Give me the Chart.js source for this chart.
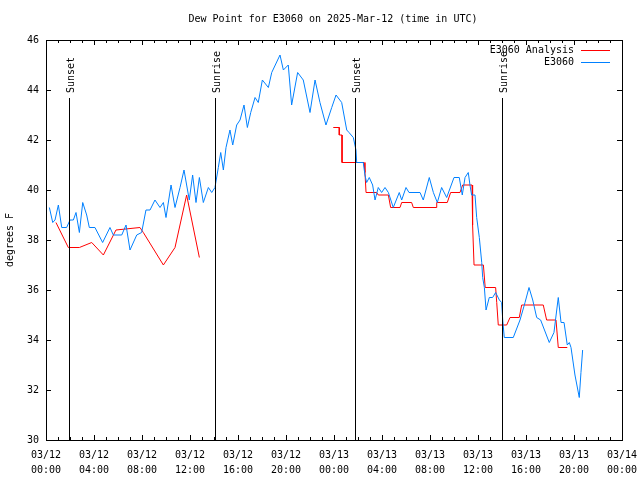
<!DOCTYPE html>
<html>
<head>
<meta charset="utf-8">
<script src="https://cdn.jsdelivr.net/npm/chart.js@4/dist/chart.umd.min.js"></script>
<style>
  body { margin: 0; background: #fff; }
  canvas { display: block; }
</style>
</head>
<body>
<canvas id="myChart" width="640" height="480"></canvas>
<script>
// hours since 03/12 00:00 UTC
var stationHours = [0.28,0.56,0.75,1.03,1.31,1.72,2.0,2.28,2.5,2.78,3.06,3.39,3.61,4.08,4.72,5.33,5.61,6.31,6.67,7.0,
  7.56,7.97,8.33,8.67,9.08,9.5,9.78,10.0,10.42,10.75,11.17,11.5,11.94,12.22,12.5,12.78,13.11,13.53,13.81,14.08,
  14.36,14.56,14.78,15.0,15.33,15.56,15.89,16.17,16.5,16.78,17.06,17.42,17.69,18.03,18.53,18.81,19.5,19.78,20.19,20.47,
  20.97,21.44,22.0,22.42,22.83,23.33,23.81,24.17,24.64,25.06,25.25,25.61,25.83,25.89,26.44,26.58,26.72,26.94,27.22,27.42,
  27.69,27.97,28.25,28.53,28.94,29.44,29.64,30.0,30.25,31.17,31.44,31.94,32.28,32.61,32.97,33.39,34.0,34.44,34.69,34.92,
  35.19,35.33,35.47,35.75,35.89,36.11,36.31,36.39,36.53,36.67,36.94,37.22,37.47,37.78,37.97,38.06,38.19,38.94,39.5,39.92,
  40.25,40.56,40.89,41.22,41.94,42.33,42.69,42.92,43.17,43.44,43.61,43.75,44.08,44.44,44.58,44.72];
var stationDew = [39.3,38.7,38.8,39.4,38.5,38.5,38.8,38.8,39.1,38.3,39.5,39.0,38.5,38.5,37.9,38.5,38.2,38.2,38.6,37.6,
  38.2,38.3,39.2,39.2,39.6,39.3,39.5,38.9,40.2,39.3,40.1,40.8,39.6,40.6,39.5,40.5,39.5,40.1,39.9,40.1,
  40.9,41.5,40.8,41.7,42.4,41.8,42.6,42.8,43.4,42.5,43.1,43.7,43.5,44.4,44.1,44.7,45.4,44.8,45.0,43.4,
  44.7,44.4,43.1,44.4,43.5,42.6,43.3,43.8,43.5,42.4,42.3,42.1,41.6,41.1,41.1,40.6,40.3,40.5,40.2,39.6,
  40.1,39.9,40.1,39.9,39.3,39.9,39.6,40.1,39.9,39.9,39.6,40.5,39.9,39.5,40.1,39.7,40.5,40.5,39.8,40.5,
  40.7,40.2,39.8,39.8,38.9,38.1,37.1,36.5,36.1,35.2,35.7,35.7,35.9,35.6,35.5,34.8,34.1,34.1,34.8,35.5,
  36.1,35.6,34.9,34.8,33.9,34.3,35.7,34.7,34.7,33.8,33.9,33.7,32.6,31.7,32.7,33.6];

var analysisHours = [0.83,1.86,2.78,3.81,4.78,5.83,7.83,8.11,9.78,10.75,11.72,12.78,13.0,
  23.94,24.44,24.44,24.67,24.67,26.5,26.58,26.67,27.56,27.69,28.53,28.72,29.5,29.64,30.47,30.61,32.5,32.56,33.44,
  33.72,34.5,34.72,35.5,35.55,35.67,36.45,36.6,37.47,37.56,37.69,38.39,38.67,39.44,39.64,41.44,41.72,42.5,42.69,43.44];
var analysisDew = [38.7,37.7,37.7,37.9,37.4,38.4,38.5,38.3,37.0,37.7,39.8,37.3,null,
  42.5,42.5,42.2,42.2,41.1,41.1,40.7,39.9,39.9,39.8,39.8,39.3,39.3,39.5,39.5,39.3,39.3,39.5,39.5,
  39.9,39.9,40.2,40.2,38.6,37.0,37.0,36.1,36.1,35.5,34.6,34.6,34.9,34.9,35.4,35.4,34.8,34.8,33.7,33.7];

var sunHours = [1.9, 14.08, 25.75, 38.0];
var sunLabels = ["Sunset", "Sunrise", "Sunset", "Sunrise"];

var yTicks = [30,32,34,36,38,40,42,44,46];
var legendNames = ["E3060 Analysis", "E3060"];
var lineColors = ["#ff0000", "#0080ff"];

var FONT = "10px 'DejaVu Sans Mono', monospace";

function makePoints(hours, vals){
  var pts = [];
  for (var i = 0; i < hours.length; i++) {
    pts.push({x: hours[i], y: vals[i]});
  }
  return pts;
}

function tickLabel(v){
  var day = 12 + Math.floor(v / 24);
  var hr = v % 24;
  return ["03/" + day, (hr < 10 ? "0" : "") + hr + ":00"];
}

// frame, inward ticks, sun lines, legend, title
var decorations = {
  id: "decorations",
  afterDraw: function(chart){
    var ctx = chart.ctx;
    var a = chart.chartArea;
    var xs = chart.scales.x, ys = chart.scales.y;
    ctx.save();
    ctx.strokeStyle = "#000";
    ctx.lineWidth = 1;
    ctx.strokeRect(Math.round(a.left) + 0.5, Math.round(a.top) + 0.5,
      Math.round(a.right - a.left), Math.round(a.bottom - a.top));

    ctx.beginPath();
    for (var h = 0; h <= 48; h++) {
      var px = Math.round(xs.getPixelForValue(h)) + 0.5;
      var len = (h % 4 === 0) ? 5 : 3;
      ctx.moveTo(px, a.bottom); ctx.lineTo(px, a.bottom - len);
      ctx.moveTo(px, a.top); ctx.lineTo(px, a.top + len);
    }
    for (var i = 0; i < yTicks.length; i++) {
      var py = Math.round(ys.getPixelForValue(yTicks[i])) + 0.5;
      ctx.moveTo(a.left, py); ctx.lineTo(a.left + 5, py);
      ctx.moveTo(a.right, py); ctx.lineTo(a.right - 5, py);
    }
    ctx.stroke();

    // sunrise / sunset markers
    ctx.font = FONT;
    ctx.fillStyle = "#000";
    for (var s = 0; s < sunHours.length; s++) {
      var sx = Math.round(xs.getPixelForValue(sunHours[s])) + 0.5;
      ctx.beginPath();
      ctx.moveTo(sx, a.bottom);
      ctx.lineTo(sx, 98);
      ctx.stroke();
      ctx.save();
      ctx.translate(sx + 4, 93);
      ctx.rotate(-Math.PI / 2);
      ctx.textAlign = "left";
      ctx.textBaseline = "alphabetic";
      ctx.fillText(sunLabels[s], 0, 0);
      ctx.restore();
    }

    // legend
    ctx.textAlign = "right";
    ctx.textBaseline = "middle";
    for (var k = 0; k < legendNames.length; k++) {
      var ly = 50 + k * 12;
      ctx.fillStyle = "#000";
      ctx.fillText(legendNames[k], 574, ly);
      ctx.strokeStyle = lineColors[k];
      ctx.beginPath();
      ctx.moveTo(581, ly + 0.5);
      ctx.lineTo(610, ly + 0.5);
      ctx.stroke();
    }

    // title
    ctx.fillStyle = "#000";
    ctx.textAlign = "center";
    ctx.fillText("Dew Point for E3060 on 2025-Mar-12 (time in UTC)", 333, 19);
    ctx.restore();
  }
};

var ctx = document.getElementById("myChart").getContext("2d");
var myChart = new Chart(ctx, {
  type: "line",
  data: {
    datasets: [{
      label: legendNames[1],
      data: makePoints(stationHours, stationDew),
      borderColor: lineColors[1],
      borderWidth: 1,
      pointRadius: 0,
      tension: 0,
      order: 1
    }, {
      label: legendNames[0],
      data: makePoints(analysisHours, analysisDew),
      borderColor: lineColors[0],
      borderWidth: 1,
      pointRadius: 0,
      tension: 0,
      spanGaps: false,
      order: 2
    }]
  },
  options: {
    responsive: false,
    animation: false,
    layout: { padding: { top: 40, right: 18, left: 0, bottom: 0 } },
    plugins: {
      legend: { display: false },
      title: { display: false },
      tooltip: { enabled: false }
    },
    scales: {
      x: {
        type: "linear",
        min: 0,
        max: 48,
        grid: { display: false, drawTicks: false },
        border: { display: false },
        afterFit: function(scale){
          scale.height = 40;
          scale.paddingLeft = 0;
          scale.paddingRight = 0;
        },
        ticks: {
          stepSize: 4,
          autoSkip: false,
          maxRotation: 0,
          padding: 8,
          color: "#000",
          font: { family: "'DejaVu Sans Mono', monospace", size: 10, lineHeight: 1.5 },
          callback: function(v){ return tickLabel(v); }
        }
      },
      y: {
        min: 30,
        max: 46,
        grid: { display: false, drawTicks: false },
        border: { display: false },
        afterFit: function(scale){ scale.width = 46; },
        title: {
          display: true,
          text: "degrees F",
          color: "#000",
          padding: 4,
          font: { family: "'DejaVu Sans Mono', monospace", size: 10 }
        },
        ticks: {
          stepSize: 2,
          padding: 7,
          color: "#000",
          font: { family: "'DejaVu Sans Mono', monospace", size: 10 }
        }
      }
    }
  },
  plugins: [decorations]
});
</script>
</body>
</html>
